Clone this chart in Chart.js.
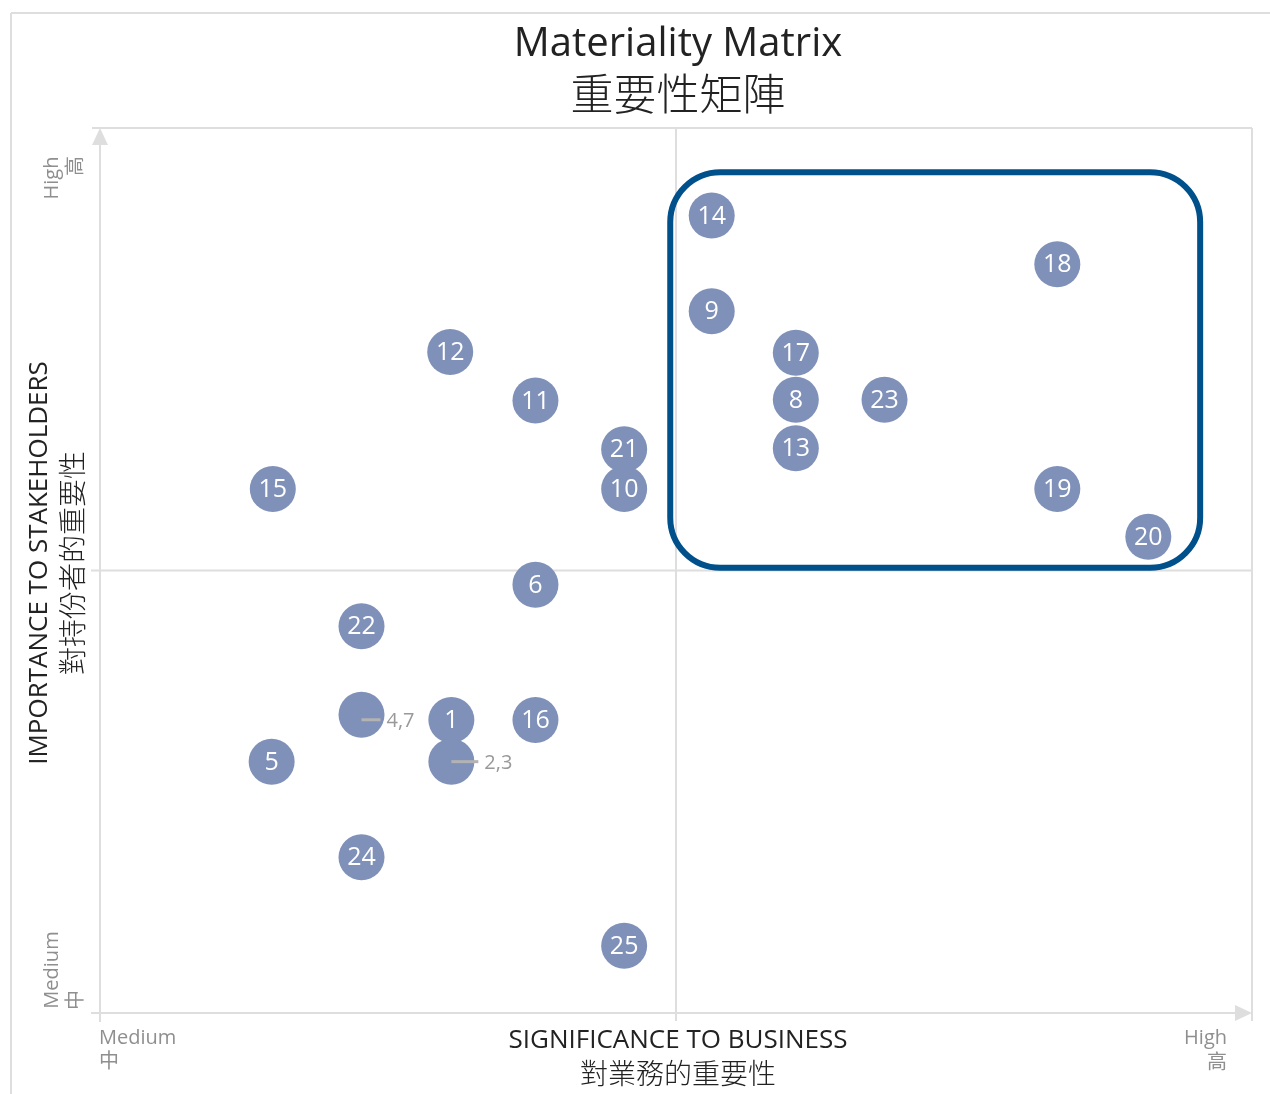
<!DOCTYPE html>
<html>
<head>
<meta charset="utf-8">
<script src="https://cdn.jsdelivr.net/npm/chart.js@4"></script>
<style>
  html, body { margin: 0; padding: 0; background: #fff; overflow: hidden; }
  #matrix { display: block; }
</style>
</head>
<body>
<canvas id="matrix" width="1270" height="1094"></canvas>
<script>
// --- Data (0-100 on both axes) ---
const issueIds = ["14", "18", "9", "12", "17", "11", "8", "23", "21", "13", "15", "10", "19", "20", "6", "22", "4,7", "1", "16", "5", "2,3", "24", "25"];
const businessVals = [53.1, 83.1, 53.1, 30.4, 60.4, 37.8, 60.4, 68.1, 45.5, 60.4, 15.0, 45.5, 83.1, 91.0, 37.8, 22.7, 22.7, 30.5, 37.8, 14.9, 30.5, 22.7, 45.5];
const stakeholderVals = [90.1, 84.6, 79.3, 74.7, 74.6, 69.2, 69.3, 69.3, 63.7, 63.8, 59.2, 59.2, 59.2, 53.8, 48.4, 43.7, 33.7, 33.1, 33.1, 28.4, 28.4, 17.6, 7.6];
// grouped bubbles get an outside label with a leader line
const calloutIds = ["4,7", "2,3"];

// highlighted region (material issues)
const boxX = [49.5, 95.5];
const boxY = [50.3, 95.0];

const titleLines = ["Materiality Matrix", "重要性矩陣"];
const xTitle = ["SIGNIFICANCE TO BUSINESS", "對業務的重要性"];
const yTitle = ["IMPORTANCE TO STAKEHOLDERS", "對持份者的重要性"];
const lowLabel = ["Medium", "中"];
const highLabel = ["High", "高"];

const FONT = '"Open Sans", "Noto Sans CJK TC", sans-serif';
const CJK = '"Noto Sans CJK TC", sans-serif';
const GRID = "#dedede";
const BUBBLE = "#7f90b9";
const BOX = "#00508c";

function line(ctx, x1, y1, x2, y2) {
    ctx.beginPath();
    ctx.moveTo(x1, y1);
    ctx.lineTo(x2, y2);
    ctx.stroke();
}

function vText(ctx, text, cx, cy) {
    ctx.save();
    ctx.translate(cx, cy);
    ctx.rotate(-Math.PI / 2);
    ctx.fillText(text, 0, 0);
    ctx.restore();
}

const matrixPlugin = {
    id: "matrix",
    beforeDatasetsDraw(chart) {
        const { ctx, chartArea: a, scales: { x, y } } = chart;
        ctx.save();

        // outer frame
        ctx.strokeStyle = GRID;
        ctx.lineWidth = 2;
        line(ctx, 11, 13, 1270, 13);
        line(ctx, 11, 13, 11, 1094);

        // plot frame + quadrant lines
        const midX = x.getPixelForValue(50);
        const midY = y.getPixelForValue(50);
        line(ctx, a.left - 8, a.top, a.right, a.top);
        line(ctx, a.right, a.top, a.right, a.bottom + 8);
        line(ctx, a.left, a.top + 10, a.left, a.bottom + 9);
        line(ctx, a.left - 9, a.bottom, a.right - 10, a.bottom);
        line(ctx, midX, a.top, midX, a.bottom + 8);
        line(ctx, a.left - 9, midY, a.right, midY);

        // arrow heads
        ctx.fillStyle = GRID;
        ctx.beginPath();
        ctx.moveTo(a.left, a.top);
        ctx.lineTo(a.left - 8, a.top + 17);
        ctx.lineTo(a.left + 8, a.top + 17);
        ctx.closePath();
        ctx.fill();
        ctx.beginPath();
        ctx.moveTo(a.right, a.bottom);
        ctx.lineTo(a.right - 17, a.bottom - 8);
        ctx.lineTo(a.right - 17, a.bottom + 8);
        ctx.closePath();
        ctx.fill();

        // highlight box
        const bx1 = x.getPixelForValue(boxX[0]), bx2 = x.getPixelForValue(boxX[1]);
        const by1 = y.getPixelForValue(boxY[1]), by2 = y.getPixelForValue(boxY[0]);
        ctx.strokeStyle = BOX;
        ctx.lineWidth = 6;
        ctx.beginPath();
        ctx.roundRect(bx1, by1, bx2 - bx1, by2 - by1, 50);
        ctx.stroke();
        ctx.restore();
    },
    afterDatasetsDraw(chart) {
        const { ctx } = chart;
        const meta = chart.getDatasetMeta(0);
        ctx.save();
        ctx.textBaseline = "middle";
        meta.data.forEach((pt, i) => {
            const id = issueIds[i];
            if (calloutIds.includes(id)) {
                const len = id === "2,3" ? 27 : 19;
                const dy = id === "4,7" ? 5 : 0;
                ctx.strokeStyle = "#b3b3b3";
                ctx.lineWidth = 3;
                line(ctx, pt.x, pt.y + dy, pt.x + len, pt.y + dy);
                ctx.fillStyle = "#999";
                ctx.font = "20px " + FONT;
                ctx.textAlign = "left";
                ctx.fillText(id, pt.x + len + 6, pt.y + dy + 2);
            } else {
                ctx.fillStyle = "#fff";
                ctx.font = "25px " + FONT;
                ctx.textAlign = "center";
                ctx.fillText(id, pt.x, pt.y + 1);
            }
        });
        ctx.restore();
    },
    afterDraw(chart) {
        const { ctx, chartArea: a } = chart;
        ctx.save();
        ctx.textBaseline = "middle";
        ctx.textAlign = "center";

        // title
        ctx.fillStyle = "#222";
        ctx.font = "40px " + FONT;
        ctx.fillText(titleLines[0], 678, 45);
        ctx.font = "300 43px " + CJK;
        ctx.fillText(titleLines[1], 678, 94);

        // x axis title
        ctx.font = "26px " + FONT;
        ctx.fillText(xTitle[0], 678, 1041);
        ctx.font = "300 28px " + CJK;
        ctx.fillText(xTitle[1], 678, 1073);

        // y axis title (rotated)
        ctx.font = "26px " + FONT;
        vText(ctx, yTitle[0], 40, 563);
        ctx.font = "300 28px " + CJK;
        vText(ctx, yTitle[1], 72, 563);

        // end labels
        ctx.fillStyle = "#8f8f8f";
        ctx.font = "20px " + FONT;
        ctx.textAlign = "left";
        ctx.fillText(lowLabel[0], a.left - 1, 1038);
        ctx.fillText(lowLabel[1], a.left - 1, 1062);
        ctx.textAlign = "right";
        ctx.fillText(highLabel[0], 1227, 1038);
        ctx.fillText(highLabel[1], 1227, 1063);

        ctx.textAlign = "center";
        vText(ctx, highLabel[0], 52, 178);
        vText(ctx, highLabel[1], 76, 166);
        vText(ctx, lowLabel[0], 52, 970);
        vText(ctx, lowLabel[1], 76, 1000);
        ctx.restore();
    }
};

const points = issueIds.map((id, i) => ({ x: businessVals[i], y: stakeholderVals[i] }));

new Chart(document.getElementById("matrix"), {
    type: "scatter",
    data: {
        datasets: [{
            data: points,
            backgroundColor: BUBBLE,
            borderWidth: 0,
            pointRadius: 23,
            pointHoverRadius: 23
        }]
    },
    options: {
        responsive: false,
        animation: false,
        events: [],
        layout: { autoPadding: false, padding: { left: 100, right: 18, top: 128, bottom: 81 } },
        plugins: { legend: { display: false }, tooltip: { enabled: false } },
        scales: {
            x: { type: "linear", min: 0, max: 100, display: false },
            y: { type: "linear", min: 0, max: 100, display: false }
        }
    },
    plugins: [matrixPlugin]
});
</script>
</body>
</html>
